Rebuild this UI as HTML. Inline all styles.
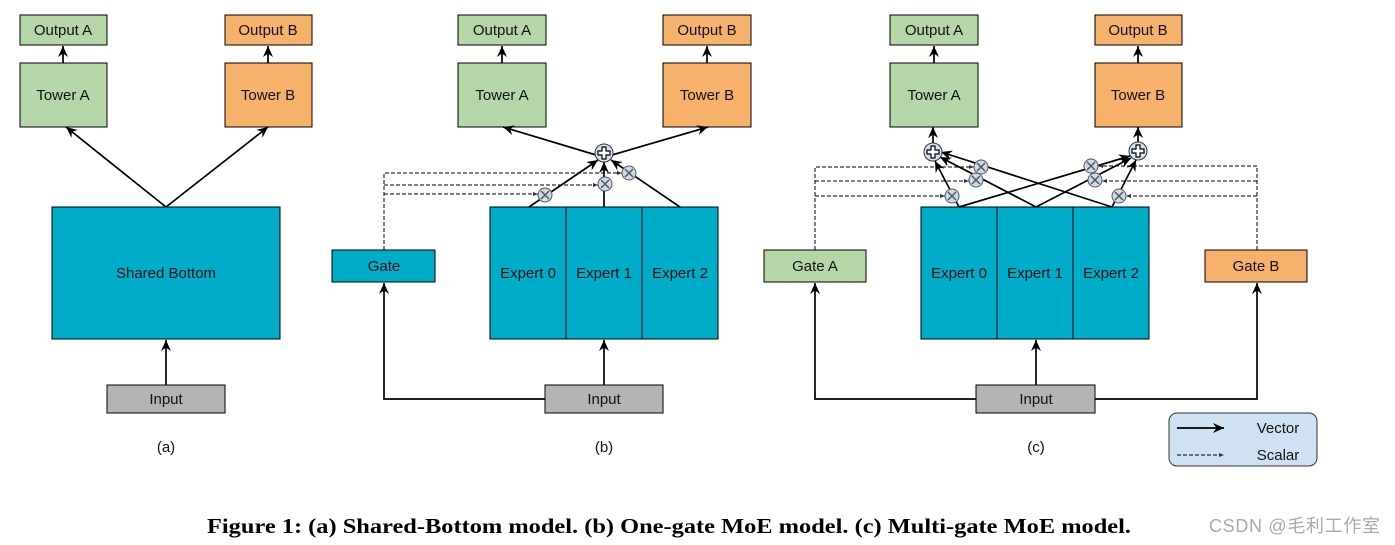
<!DOCTYPE html>
<html><head><meta charset="utf-8"><style>
html,body{margin:0;padding:0;background:#fff;}
svg{display:block;}
text{font-family:"Liberation Sans",Arial,sans-serif;font-size:15px;fill:#111;}
</style></head><body>
<svg width="1395" height="545" viewBox="0 0 1395 545" xmlns="http://www.w3.org/2000/svg">
<defs>
<marker id="a" markerWidth="12" markerHeight="12" refX="11" refY="6" orient="auto" markerUnits="userSpaceOnUse"><path d="M0,1 L11,6 L0,11 L3.5,6 Z" fill="#000"/></marker>
<marker id="s" markerWidth="6" markerHeight="6" refX="5" refY="3" orient="auto" markerUnits="userSpaceOnUse"><path d="M0,1 L5,3 L0,5 Z" fill="#333"/></marker>
<g id="mul"><circle r="7" fill="#c9dcef" stroke="#555" stroke-width="1"/><path d="M-4,-4 L4,4 M-4,4 L4,-4" stroke="#555" stroke-width="1.5"/></g>
<g id="plus"><circle r="9" fill="#d3e5f6" stroke="#333" stroke-width="1"/><path d="M-2,-6 H2 V-2 H6 V2 H2 V6 H-2 V2 H-6 V-2 H-2 Z" fill="#fff" stroke="#000" stroke-width="1.2"/></g>
</defs>
<g stroke="#000" stroke-width="1" >
<rect x="20" y="15" width="87" height="30" fill="#b5d7a8"/>
<rect x="20" y="63" width="87" height="64" fill="#b5d7a8"/>
<rect x="225" y="15" width="87" height="30" fill="#f6b26b"/>
<rect x="225" y="63" width="87" height="64" fill="#f6b26b"/>
<rect x="52" y="207" width="228" height="132" fill="#00adc9"/>
<rect x="107" y="385" width="118" height="28" fill="#b3b3b3"/>
<rect x="458" y="15" width="88" height="30" fill="#b5d7a8"/>
<rect x="458" y="63" width="88" height="64" fill="#b5d7a8"/>
<rect x="663" y="15" width="88" height="30" fill="#f6b26b"/>
<rect x="663" y="63" width="88" height="64" fill="#f6b26b"/>
<rect x="332" y="250" width="103" height="32" fill="#00adc9"/>
<rect x="490" y="207" width="228" height="132" fill="#00adc9"/>
<line x1="566" y1="207" x2="566" y2="339"/><line x1="642" y1="207" x2="642" y2="339"/>
<rect x="545" y="385" width="118" height="28" fill="#b3b3b3"/>
<rect x="890" y="15" width="88" height="30" fill="#b5d7a8"/>
<rect x="890" y="63" width="88" height="64" fill="#b5d7a8"/>
<rect x="1095" y="15" width="87" height="30" fill="#f6b26b"/>
<rect x="1095" y="63" width="87" height="64" fill="#f6b26b"/>
<rect x="764" y="250" width="102" height="32" fill="#b5d7a8"/>
<rect x="1205" y="250" width="102" height="32" fill="#f6b26b"/>
<rect x="921" y="207" width="228" height="132" fill="#00adc9"/>
<line x1="997" y1="207" x2="997" y2="339"/><line x1="1073" y1="207" x2="1073" y2="339"/>
<rect x="976" y="385" width="119" height="28" fill="#b3b3b3"/>
<rect x="1169" y="413" width="148" height="53" rx="8" fill="#cfe2f3" stroke="#333"/>
</g>
<g stroke="#000" stroke-width="1.7" fill="none" marker-end="url(#a)">
<line x1="63" y1="63" x2="63" y2="46"/><line x1="268" y1="63" x2="268" y2="46"/>
<line x1="166" y1="207" x2="66" y2="127"/><line x1="166" y1="207" x2="268" y2="127"/>
<line x1="166" y1="385" x2="166" y2="340"/>
<line x1="502" y1="63" x2="502" y2="46"/><line x1="707" y1="63" x2="707" y2="46"/>
<line x1="596" y1="155" x2="503" y2="127"/><line x1="612" y1="155" x2="708" y2="127"/>
<line x1="604" y1="385" x2="604" y2="340"/>
<polyline points="545,399 384,399 384,283"/>
<line x1="529" y1="207" x2="598" y2="160"/>
<line x1="604" y1="207" x2="604" y2="162"/>
<line x1="680" y1="207" x2="611" y2="160"/>
<line x1="934" y1="63" x2="934" y2="46"/><line x1="1138" y1="63" x2="1138" y2="46"/>
<line x1="933" y1="143" x2="933" y2="127"/><line x1="1138" y1="142" x2="1138" y2="127"/>
<line x1="1036" y1="385" x2="1036" y2="340"/>
<polyline points="976,399 815,399 815,283"/>
<polyline points="1095,399 1257,399 1257,283"/>
<line x1="959" y1="207" x2="935" y2="161"/>
<line x1="959" y1="207" x2="1130" y2="156"/>
<line x1="1036" y1="207" x2="940" y2="157"/>
<line x1="1036" y1="207" x2="1131" y2="158"/>
<line x1="1112" y1="207" x2="941" y2="152"/>
<line x1="1112" y1="207" x2="1136" y2="160"/>
<line x1="1177" y1="428" x2="1224" y2="428"/>
</g>
<g stroke="#000" stroke-width="1" stroke-dasharray="4,2" fill="none" marker-end="url(#s)">
<polyline points="384,250 384,173 622,173"/>
<polyline points="384,185 598,185"/>
<polyline points="384,194 538,194"/>
<polyline points="815,250 815,167 974,167"/>
<polyline points="815,181 969,181"/>
<polyline points="815,196 945,196"/>
<polyline points="1257,250 1257,166 1098,166"/>
<polyline points="1257,181 1102,181"/>
<polyline points="1257,196 1126,196"/>
<polyline points="1177,455 1224,455"/>
</g>
<use href="#plus" x="604" y="153"/>
<use href="#mul" x="545" y="195"/><use href="#mul" x="605" y="184"/><use href="#mul" x="629" y="173"/>
<use href="#plus" x="933" y="152"/><use href="#plus" x="1138" y="151"/>
<use href="#mul" x="981" y="167"/><use href="#mul" x="976" y="180"/><use href="#mul" x="952" y="196"/>
<use href="#mul" x="1091" y="166"/><use href="#mul" x="1095" y="180"/><use href="#mul" x="1119" y="196"/>
<g text-anchor="middle">
<text x="63" y="35">Output A</text><text x="63" y="100">Tower A</text>
<text x="268" y="35">Output B</text><text x="268" y="100">Tower B</text>
<text x="166" y="278">Shared Bottom</text><text x="166" y="404">Input</text>
<text x="166" y="452">(a)</text>
<text x="502" y="35">Output A</text><text x="502" y="100">Tower A</text>
<text x="707" y="35">Output B</text><text x="707" y="100">Tower B</text>
<text x="384" y="271">Gate</text>
<text x="528" y="278">Expert 0</text><text x="604" y="278">Expert 1</text><text x="680" y="278">Expert 2</text>
<text x="604" y="404">Input</text><text x="604" y="452">(b)</text>
<text x="934" y="35">Output A</text><text x="934" y="100">Tower A</text>
<text x="1138" y="35">Output B</text><text x="1138" y="100">Tower B</text>
<text x="815" y="271">Gate A</text><text x="1256" y="271">Gate B</text>
<text x="959" y="278">Expert 0</text><text x="1035" y="278">Expert 1</text><text x="1111" y="278">Expert 2</text>
<text x="1036" y="404">Input</text><text x="1036" y="452">(c)</text>
<text x="1278" y="433">Vector</text><text x="1278" y="460">Scalar</text>
</g>
<text x="207" y="533" textLength="924" lengthAdjust="spacingAndGlyphs" style="font-family:'Liberation Serif',serif;font-weight:bold;font-size:21px;fill:#000">Figure 1: (a) Shared-Bottom model. (b) One-gate MoE model. (c) Multi-gate MoE model.</text>
<text x="1209" y="532" textLength="171" style="font-family:'Liberation Sans','Noto Sans CJK SC',sans-serif;font-size:18px;fill:#aaa">CSDN @毛利工作室</text>
</svg>
</body></html>
